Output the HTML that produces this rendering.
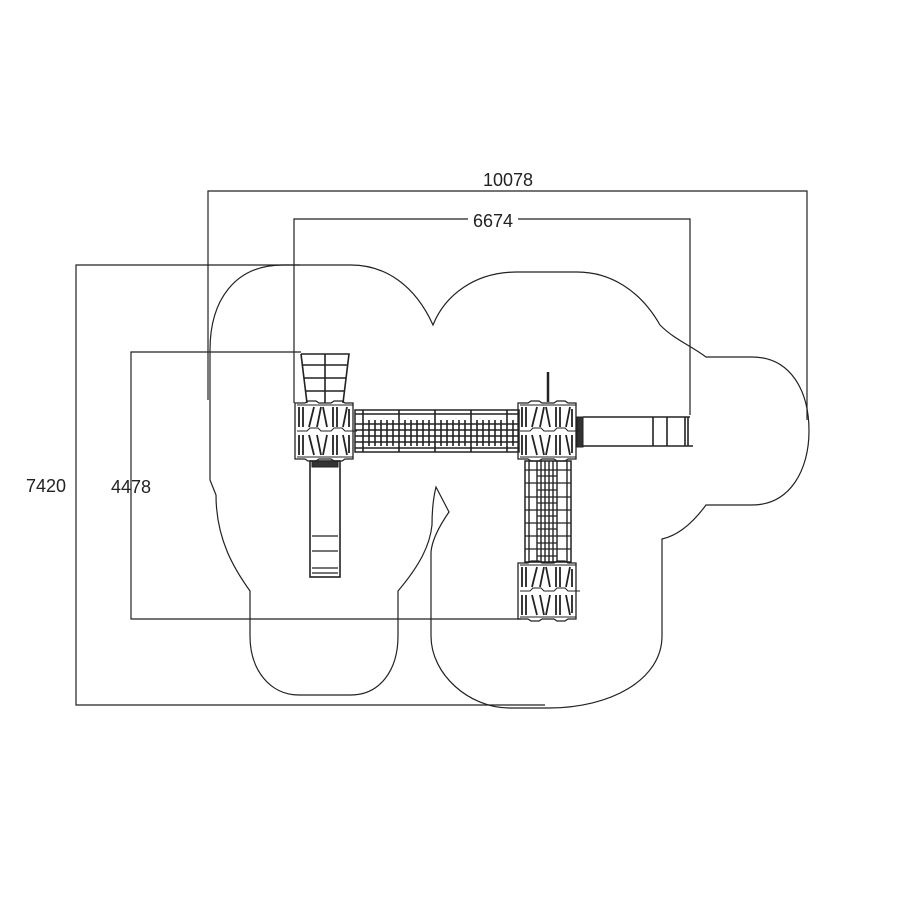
<!DOCTYPE html>
<html><head><meta charset="utf-8"><style>
html,body{margin:0;padding:0;background:#fff;}
svg{display:block;}
text{font-family:"Liberation Sans",sans-serif;font-size:18px;fill:#222;}
</style></head><body>
<svg width="900" height="900" viewBox="0 0 900 900" xmlns="http://www.w3.org/2000/svg">
<defs>
<g id="tower" fill="none" stroke="#222">
  <path d="M0,2 h10 l3,-2 h8 l3,2 h12 l3,-2 h8 l3,2 h8 v56 h-8 l-3,2 h-8 l-3,-2 h-12 l-3,2 h-8 l-3,-2 h-10 z" stroke-width="1.3"/>
  <path d="M2,4 h56 M2,56 h56 M2,30 h10 l3,-3 h8 l3,3 h10 l3,-3 h8 l3,3 h12" stroke-width="1"/>
  <path d="M4,6 v20 M8,6 v20 M14,26 l5,-20 M26,6 l-4,20 M28,6 l4,20 M38,6 v20 M42,6 v20 M48,26 l4,-20 M54,8 v18
           M4,34 v20 M8,34 v20 M14,34 l5,20 M26,54 l-4,-20 M28,54 l4,-20 M38,34 v20 M42,34 v20 M48,34 l4,20 M54,34 v18" stroke-width="1.8"/>
</g>
</defs>
<g fill="none" stroke="#222" stroke-width="1.2">
  <!-- dimension lines -->
  <path d="M208,400 V191 H807 V420"/>
  <path d="M294,403 V219 H690 V415"/>
  <path d="M300,265 H76 V705 H545"/>
  <path d="M301,352 H131 V619 H521"/>
  <!-- play area outline -->
  <path d="M351,265 H283 C235,265 210,300 210,350 V480 L216,495 C216,540 235,570 250,591 V636 C250,670 270,695 299,695 H351 C380,695 398,670 398,636 V591 C420,565 430,545 432,525 C432,505 434,495 436,487 L449,512 C440,525 432,540 431,552 V636 C431,675 470,708 509,708 H549 C610,708 662,680 662,636 V539 C680,535 695,520 706,505 H752 C790,505 809,470 809,431 C809,390 790,357 752,357 H706 C690,345 675,340 660,325 C640,290 610,272 577,272 H517 C475,272 445,295 433,325 C415,285 385,265 351,265 Z"/>
</g>
<!-- structure -->
<g fill="none" stroke="#222">
  <!-- left ladder trapezoid -->
  <path d="M301,354 H349 L343,403 M301,354 L307,403 M325,354 V403 M302,365 H348 M304,378 H346 M305,391 H345" stroke-width="1.6"/>
  <!-- left slide -->
  <rect x="310" y="461" width="30" height="116" stroke-width="1.6"/>
  <rect x="312" y="461" width="26" height="6" fill="#333"/>
  <path d="M312,536 H338 M312,551 H338 M312,568 H338 M312,573 H338" stroke-width="1.2"/>
  <!-- horizontal bridge -->
  <rect x="355" y="410" width="164" height="42" stroke-width="1.5"/>
  <path d="M355,414 H519 M355,448 H519 M355,424 H519 M355,430 H519 M355,436 H519 M355,442 H519" stroke-width="1.4"/>
  <path d="M363,410 V452 M369,420 V446 M375,420 V446 M381,420 V446 M387,420 V446 M393,420 V446 M399,410 V452 M405,420 V446 M411,420 V446 M417,420 V446 M423,420 V446 M429,420 V446 M435,410 V452 M441,420 V446 M447,420 V446 M453,420 V446 M459,420 V446 M465,420 V446 M471,410 V452 M477,420 V446 M483,420 V446 M489,420 V446 M495,420 V446 M501,420 V446 M507,410 V452 M513,420 V446" stroke-width="1.6"/>
  <!-- pole -->
  <path d="M548,372 V402" stroke-width="2.5"/>
  <!-- right slide -->
  <rect x="577" y="417" width="6" height="30" fill="#333" stroke-width="1"/>
  <path d="M583,417 H690 M583,446 H693 M653,417 V446 M667,417 V446 M685,417 V446 M688,417 V446" stroke-width="1.6"/>
  <!-- vertical bridge -->
  <rect x="525" y="461" width="46" height="101" stroke-width="1.5"/>
  <path d="M529,461 V562 M567,461 V562 M537,461 V562 M541,461 V562 M545,461 V562 M549,461 V562 M553,461 V562 M557,461 V562" stroke-width="1.4"/>
  <path d="M525,470 H571 M525,483 H571 M525,497 H571 M525,510 H571 M525,523 H571 M525,536 H571 M525,549 H571 M537,476 H557 M537,490 H557 M537,503 H557 M537,516 H557 M537,529 H557 M537,543 H557 M537,556 H557" stroke-width="1.3"/>
</g>
<use href="#tower" x="295" y="401"/>
<use href="#tower" x="518" y="401"/>
<use href="#tower" x="518" y="561"/>
<!-- labels -->
<text x="508" y="186" text-anchor="middle">10078</text>
<rect x="468" y="210" width="50" height="18" fill="#fff"/>
<text x="493" y="227" text-anchor="middle">6674</text>
<text x="46" y="492" text-anchor="middle">7420</text>
<text x="131" y="493" text-anchor="middle">4478</text>
</svg>
</body></html>
